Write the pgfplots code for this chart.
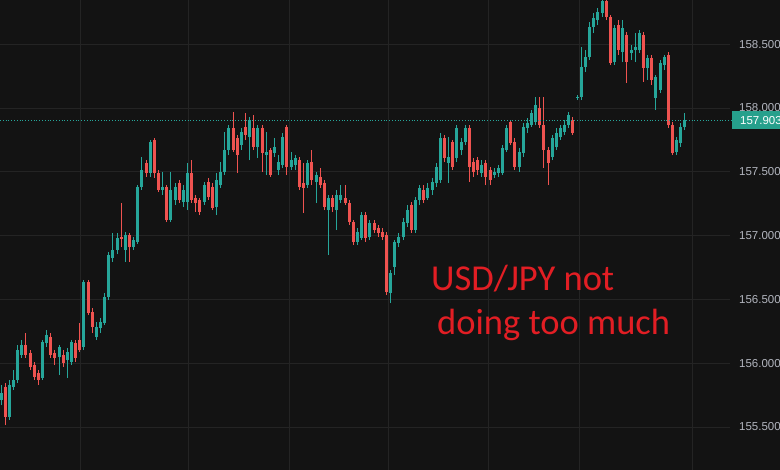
\documentclass[border=0pt]{standalone}
\usepackage{pgfplots}
\pgfplotsset{compat=1.18}
\usepackage{pgfplotstable}
\usepackage{fontspec}
\setmainfont{Liberation Sans}
\newfontfamily\carlito{Carlito}
\definecolor{bg}{RGB}{19,19,19}
\definecolor{gridc}{RGB}{36,36,36}
\definecolor{upc}{RGB}{38,166,154}
\definecolor{dnc}{RGB}{239,83,80}
\definecolor{lblc}{RGB}{178,181,190}
\definecolor{txtred}{RGB}{226,30,36}
\definecolor{tagc}{RGB}{38,160,140}

\pgfplotstableread{
i o h l c
0 155.711 155.829 155.672 155.766
2 155.578 155.868 155.555 155.829
3 155.814 155.946 155.790 155.868
4 155.868 156.142 155.845 156.103
5 156.064 156.182 156.041 156.142
10 155.884 156.182 155.868 156.166
11 156.158 156.260 156.127 156.221
14 156.049 156.142 155.907 156.127
16 156.025 156.118 155.884 156.088
17 156.010 156.182 155.986 156.166
20 156.127 156.652 156.103 156.636
23 156.205 156.323 156.182 156.283
24 156.276 156.354 156.236 156.323
25 156.315 156.550 156.299 156.519
26 156.519 156.871 156.495 156.848
27 156.824 157.020 156.793 156.887
28 156.887 157.020 156.855 156.981
30 156.887 157.028 156.793 157.005
32 156.910 156.989 156.887 156.965
33 156.950 157.396 156.934 157.381
34 157.381 157.616 157.357 157.514
36 157.490 157.749 157.459 157.733
39 157.357 157.498 157.318 157.381
41 157.122 157.498 157.106 157.357
42 157.279 157.412 157.240 157.381
44 157.263 157.396 157.224 157.357
45 157.263 157.569 157.200 157.490
49 157.263 157.420 157.240 157.396
52 157.224 157.490 157.161 157.435
53 157.396 157.576 157.373 157.498
54 157.498 157.812 157.475 157.671
55 157.671 157.866 157.631 157.843
58 157.710 157.843 157.671 157.812
60 157.772 157.929 157.592 157.906
62 157.694 157.866 157.608 157.843
64 157.631 157.812 157.475 157.655
66 157.647 157.765 157.616 157.694
67 157.514 157.631 157.475 157.576
68 157.553 157.804 157.529 157.772
70 157.537 157.655 157.514 157.592
71 157.553 157.631 157.514 157.608
74 157.396 157.592 157.373 157.569
76 157.420 157.498 157.255 157.475
79 157.200 157.318 156.848 157.294
81 157.200 157.357 157.044 157.318
82 157.279 157.396 157.255 157.318
86 156.950 157.059 156.926 157.028
87 156.981 157.185 156.965 157.161
89 156.989 157.122 156.965 157.098
94 156.550 156.730 156.471 156.707
95 156.754 156.965 156.691 156.950
96 156.942 157.020 156.910 156.989
97 156.989 157.137 156.965 157.106
98 157.098 157.240 157.067 157.200
100 157.044 157.302 157.020 157.279
101 157.279 157.396 157.240 157.373
103 157.294 157.412 157.279 157.373
104 157.357 157.451 157.318 157.420
105 157.412 157.569 157.381 157.537
106 157.435 157.804 157.412 157.765
108 157.569 157.772 157.412 157.616
110 157.608 157.866 157.576 157.843
111 157.671 157.765 157.631 157.733
112 157.733 157.866 157.710 157.843
116 157.490 157.592 157.459 157.553
119 157.475 157.529 157.451 157.498
120 157.490 157.553 157.459 157.529
121 157.490 157.710 157.475 157.686
122 157.671 157.866 157.655 157.843
125 157.537 157.686 157.498 157.655
126 157.647 157.882 157.616 157.851
127 157.843 157.921 157.804 157.882
128 157.866 157.984 157.851 157.960
129 157.890 158.086 157.866 158.023
133 157.616 157.788 157.592 157.765
134 157.694 157.843 157.671 157.804
135 157.772 157.866 157.749 157.843
136 157.812 157.906 157.788 157.866
137 157.866 157.968 157.843 157.945
139 158.078 158.101 158.062 158.086
140 158.086 158.477 158.062 158.321
141 158.321 158.454 158.282 158.399
142 158.399 158.674 158.376 158.634
143 158.634 158.744 158.587 158.705
144 158.689 158.783 158.650 158.752
145 158.744 158.870 158.713 158.840
148 158.360 158.650 158.337 158.627
150 158.438 158.689 158.360 158.627
152 158.431 158.493 158.376 158.454
153 158.454 158.587 158.360 158.478
154 158.454 158.611 158.431 158.587
156 158.313 158.415 158.219 158.391
158 158.078 158.258 157.984 158.243
159 158.141 158.376 158.117 158.352
160 158.337 158.415 158.297 158.399
163 157.655 157.772 157.631 157.749
164 157.725 157.882 157.694 157.851
165 157.851 157.960 157.827 157.903
}\upT

\pgfplotstableread{
i o h l c
1 155.814 155.845 155.515 155.578
6 156.142 156.236 156.041 156.064
7 156.080 156.103 155.946 155.970
8 155.986 156.010 155.868 155.892
9 155.923 155.946 155.829 155.868
12 156.205 156.236 156.041 156.064
13 156.080 156.103 155.986 156.041
15 156.064 156.103 155.970 156.002
18 156.158 156.182 156.010 156.041
19 156.182 156.315 156.088 156.103
21 156.636 156.652 156.377 156.393
22 156.401 156.432 156.236 156.283
29 156.989 157.255 156.910 156.973
31 157.005 157.020 156.793 156.910
35 157.569 157.592 157.459 157.490
37 157.749 157.765 157.451 157.490
38 157.490 157.514 157.341 157.357
40 157.381 157.396 157.106 157.122
43 157.412 157.435 157.255 157.279
46 157.490 157.592 157.255 157.279
47 157.294 157.318 157.185 157.255
48 157.279 157.294 157.161 157.185
50 157.420 157.451 157.279 157.302
51 157.381 157.412 157.200 157.216
56 157.843 157.968 157.655 157.671
57 157.765 157.788 157.490 157.631
59 157.851 157.960 157.749 157.788
61 157.843 157.945 157.671 157.694
63 157.843 157.866 157.498 157.647
65 157.671 157.686 157.459 157.475
69 157.851 157.866 157.475 157.537
72 157.592 157.616 157.357 157.381
73 157.412 157.569 157.177 157.373
75 157.576 157.671 157.396 157.435
77 157.459 157.529 157.373 157.396
78 157.412 157.435 157.200 157.224
80 157.294 157.318 157.185 157.224
83 157.294 157.396 157.240 157.255
84 157.255 157.279 157.083 157.106
85 157.106 157.122 156.926 156.950
88 157.161 157.185 156.950 156.981
90 157.098 157.122 157.020 157.044
91 157.059 157.083 156.989 157.020
92 157.028 157.059 156.965 156.989
93 157.005 157.028 156.534 156.558
99 157.240 157.263 157.020 157.044
102 157.357 157.396 157.255 157.279
107 157.765 157.788 157.576 157.608
109 157.733 157.749 157.514 157.537
113 157.843 157.866 157.420 157.537
114 157.576 157.608 157.459 157.498
115 157.592 157.616 157.475 157.514
117 157.569 157.592 157.396 157.459
118 157.514 157.537 157.396 157.435
123 157.890 157.906 157.710 157.725
124 157.733 157.765 157.514 157.537
130 157.999 158.086 157.843 157.866
131 157.866 158.086 157.529 157.671
132 157.671 157.694 157.396 157.569
138 157.906 157.929 157.788 157.804
146 158.840 158.870 158.689 158.713
147 158.713 158.728 158.337 158.352
149 158.650 158.689 158.415 158.454
151 158.572 158.595 158.196 158.360
155 158.572 158.595 158.204 158.313
157 158.391 158.415 158.180 158.219
161 158.415 158.438 157.843 157.866
162 157.866 157.890 157.631 157.647
}\dnT

\begin{document}
\begin{tikzpicture}
\useasboundingbox (0,0) rectangle (780pt,470pt);
\fill[bg] (0,0) rectangle (780pt,470pt);
\clip (0,0) rectangle (780pt,470pt);
\begin{axis}[
  at={(0pt,0pt)}, anchor=south west,
  scale only axis, width=730pt, height=470pt,
  xmin=-0.2413, xmax=175.88, ymin=155.1627, ymax=158.846,
  axis line style={draw=none},
  major tick length=0pt,
  xtick={19.06,45.11,69.48,93.37,117.49,139.45,166.71},
  xticklabels={},
  ytick={155.5,156,156.5,157,157.5,158,158.5},
  ymajorgrids, xmajorgrids,
  grid style={gridc, line width=0.8pt},
  yticklabel pos=right,
  yticklabel style={anchor=west, xshift=9pt, text=lblc, inner sep=0pt,
    font=\fontsize{11.5}{13}\selectfont},
  yticklabel={\pgfmathprintnumber[fixed, fixed zerofill, precision=3, assume math mode=true]{\tick}},
  /pgf/number format/assume math mode=true,
  clip=false,
]
\addplot[draw=none, forget plot, error bars/.cd, y dir=plus, y explicit, error mark=none,
  error bar style={draw=upc, solid, line width=1pt}]
  table[x=i, y=l, y error plus expr=\thisrow{h}-\thisrow{l}] {\upT};
\addplot[draw=none, forget plot, error bars/.cd, y dir=plus, y explicit, error mark=none,
  error bar style={draw=upc, solid, line width=3pt}]
  table[x=i, y=o, y error plus expr=\thisrow{c}-\thisrow{o}] {\upT};
\addplot[draw=none, forget plot, error bars/.cd, y dir=plus, y explicit, error mark=none,
  error bar style={draw=dnc, solid, line width=1pt}]
  table[x=i, y=l, y error plus expr=\thisrow{h}-\thisrow{l}] {\dnT};
\addplot[draw=none, forget plot, error bars/.cd, y dir=plus, y explicit, error mark=none,
  error bar style={draw=dnc, solid, line width=3pt}]
  table[x=i, y=c, y error plus expr=\thisrow{o}-\thisrow{c}] {\dnT};
\addplot[upc, dotted, line width=0.8pt, forget plot] coordinates {(-0.2413,157.903) (176.36,157.903)};
\coordinate (tagpos) at (axis cs:176.36,157.903);
\end{axis}
\node[fill=tagc, text=white, anchor=west, inner xsep=8pt, inner ysep=0pt, minimum height=18pt,
  font=\fontsize{11.5}{13}\selectfont] at (tagpos) {157.903\hspace{20pt}};
\node[anchor=base west, inner sep=0pt, text=txtred, font=\carlito\fontsize{36.5}{44}\selectfont] at (431pt,179pt) {USD/JPY not};
\node[anchor=base west, inner sep=0pt, text=txtred, font=\carlito\fontsize{36.5}{44}\selectfont] at (437pt,135pt) {doing too much};
\end{tikzpicture}
\end{document}
